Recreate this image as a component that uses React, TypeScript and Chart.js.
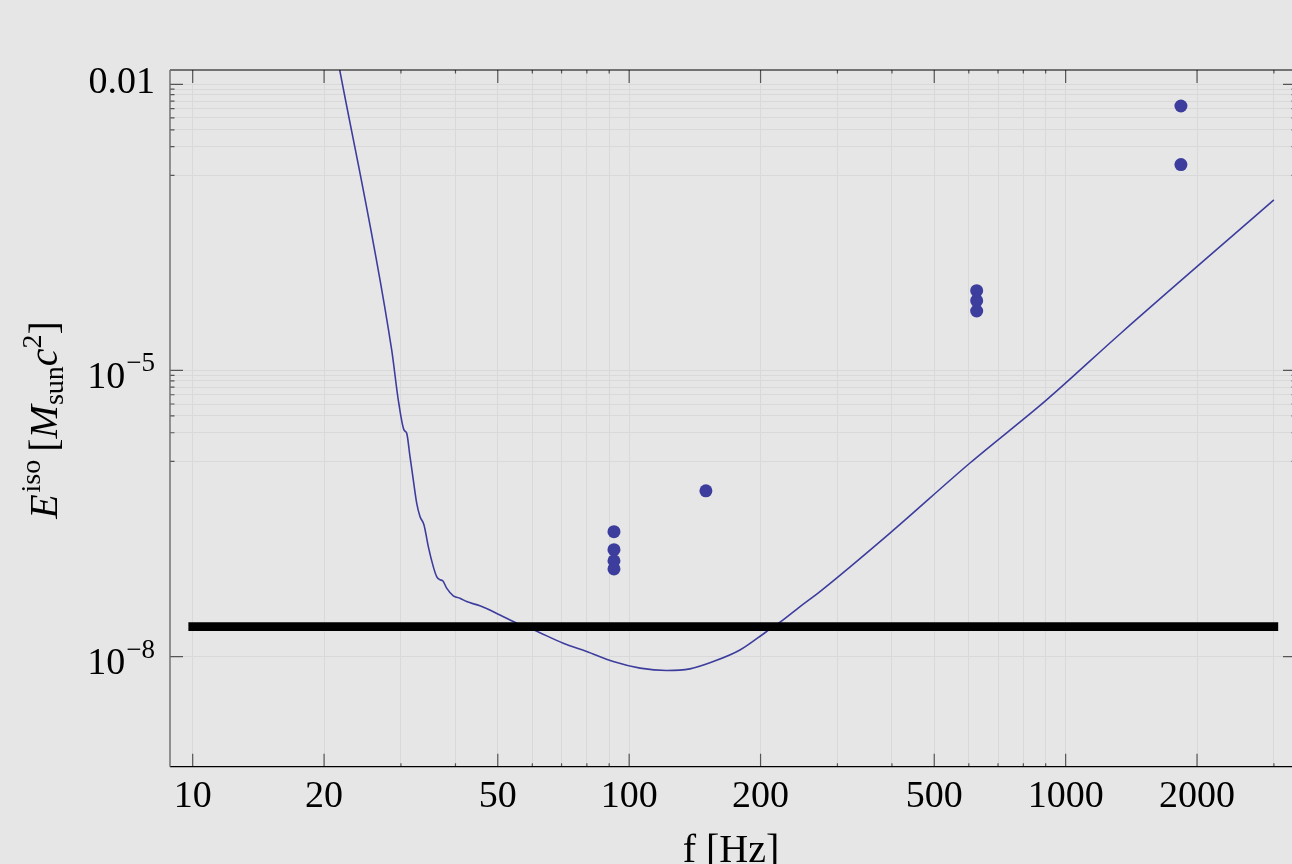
import React, { useEffect, useRef } from "react";
import { Chart, registerables } from "chart.js";

Chart.register(...registerables);

// ---------- data ----------
const curveFreq = [
  21.29, 28.57, 29.58, 30.48, 30.92, 31.47, 32.02, 32.6, 33.17, 33.88, 34.66,
  35.58, 36.22, 36.86, 37.38, 38.18, 39.54, 40.96, 42.43, 45.51, 50.58, 55.24,
  60.3, 70.63, 79.91, 91.96, 105.9, 121.9, 137.8, 155.9, 179.4, 206.5, 221.6,
  246.3, 273.6, 395.9, 603.7, 904.4, 1332, 3000,
];
const curveEnergy = [
  2.288e-2, 1.64e-5, 4.91e-6, 2.38e-6, 2.2e-6, 1.25e-6, 7.11e-7, 4.06e-7,
  2.94e-7, 2.4e-7, 1.42e-7, 8.77e-8, 6.9e-8, 6.37e-8, 6.26e-8, 5.21e-8,
  4.33e-8, 4.09e-8, 3.77e-8, 3.4e-8, 2.73e-8, 2.24e-8, 1.91e-8, 1.38e-8,
  1.13e-8, 8.86e-9, 7.56e-9, 7.13e-9, 7.43e-9, 8.86e-9, 1.17e-8, 1.83e-8,
  2.29e-8, 3.34e-8, 4.8e-8, 1.97e-7, 1.07e-6, 4.91e-6, 2.41e-5, 6.13e-4,
];

const modeFreq = [92.3, 92.3, 92.3, 92.3, 149.9, 625.4, 625.4, 625.4, 1837, 1837];
const modeEnergy = [
  2.04e-7, 1.32e-7, 1.01e-7, 8.3e-8, 5.46e-7, 6.86e-5, 5.39e-5, 4.2e-5,
  5.92e-3, 1.44e-3,
];

const thresholdFreq = [10, 3000];
const thresholdEnergy = [2.06e-8, 2.06e-8];

const xMajorTicks = [10, 20, 50, 100, 200, 500, 1000, 2000];
const xMajorLabels = ["10", "20", "50", "100", "200", "500", "1000", "2000"];
const xMinorTicks = [30, 40, 60, 70, 80, 90, 300, 400, 600, 700, 800, 900, 3000];

const yMajorTicks = [1e-2, 1e-5, 1e-8];
const yMajorBase = ["0.01", "10", "10"];
const yMajorExp = ["", "\u22125", "\u22128"];
const yMinorTicks = [
  8.889e-3, 7.778e-3, 6.667e-3, 5.556e-3, 4.444e-3, 3.333e-3, 2.222e-3, 1.111e-3,
  8.889e-6, 7.778e-6, 6.667e-6, 5.556e-6, 4.444e-6, 3.333e-6, 2.222e-6, 1.111e-6,
];

const xRange = [8.872, 3371];
const yRange = [7.065e-10, 1.4122e-2];

// ---------- styling ----------
const CANVAS_W = 1310;
const CANVAS_H = 864;
const BG = "#e6e6e6";
const GRID = "#d9d9d9";
const BLUE = "rgb(61,61,158)";
const SERIF = '"Liberation Serif", "Times New Roman", serif';

const framePlugin = {
  id: "mmaFrame",
  beforeDraw(chart: any) {
    const { ctx } = chart;
    ctx.save();
    ctx.fillStyle = BG;
    ctx.fillRect(0, 0, chart.width, chart.height);
    ctx.restore();
  },
  afterDraw(chart: any) {
    const { ctx, chartArea } = chart;
    const { left, right, top, bottom } = chartArea;
    const xs = chart.scales.x;
    const ys = chart.scales.y;
    ctx.save();

    // ticks
    ctx.strokeStyle = "#555";
    ctx.lineWidth = 1.2;
    ctx.beginPath();
    xMajorTicks.forEach((v) => {
      const p = xs.getPixelForValue(v);
      ctx.moveTo(p, bottom);
      ctx.lineTo(p, bottom - 13);
      ctx.moveTo(p, top);
      ctx.lineTo(p, top + 13);
    });
    xMinorTicks.forEach((v) => {
      const p = xs.getPixelForValue(v);
      ctx.moveTo(p, bottom);
      ctx.lineTo(p, bottom - 3.5);
      ctx.moveTo(p, top);
      ctx.lineTo(p, top + 3.5);
    });
    yMajorTicks.forEach((v) => {
      const p = ys.getPixelForValue(v);
      ctx.moveTo(left, p);
      ctx.lineTo(left + 13, p);
      ctx.moveTo(right, p);
      ctx.lineTo(right - 13, p);
    });
    yMinorTicks.forEach((v) => {
      const p = ys.getPixelForValue(v);
      ctx.moveTo(left, p);
      ctx.lineTo(left + 4.5, p);
      ctx.moveTo(right, p);
      ctx.lineTo(right - 4.5, p);
    });
    ctx.stroke();

    // frame
    ctx.strokeStyle = "#000";
    ctx.lineWidth = 1.2;
    ctx.beginPath();
    ctx.moveTo(left, top);
    ctx.lineTo(right, top);
    ctx.moveTo(left, bottom);
    ctx.lineTo(right, bottom);
    ctx.stroke();
    ctx.strokeStyle = "#6b6b6b";
    ctx.lineWidth = 1.4;
    ctx.beginPath();
    ctx.moveTo(left, top);
    ctx.lineTo(left, bottom);
    ctx.moveTo(right, top);
    ctx.lineTo(right, bottom);
    ctx.stroke();

    // x tick labels
    ctx.fillStyle = "#000";
    ctx.font = `38px ${SERIF}`;
    ctx.textAlign = "center";
    ctx.textBaseline = "alphabetic";
    xMajorTicks.forEach((v, i) => {
      ctx.fillText(xMajorLabels[i], xs.getPixelForValue(v), bottom + 40.6);
    });

    // y tick labels
    const labelRight = 155;
    yMajorTicks.forEach((v, i) => {
      const p = ys.getPixelForValue(v);
      ctx.textAlign = "left";
      if (!yMajorExp[i]) {
        ctx.font = `38px ${SERIF}`;
        const w = ctx.measureText(yMajorBase[i]).width;
        ctx.fillText(yMajorBase[i], labelRight - w, p + 9);
      } else {
        ctx.font = `27px ${SERIF}`;
        const ws = ctx.measureText(yMajorExp[i]).width;
        ctx.font = `38px ${SERIF}`;
        const wb = ctx.measureText(yMajorBase[i]).width;
        const sx = labelRight - ws;
        const bx = sx - wb - 1;
        const base = p + 17.5;
        ctx.fillText(yMajorBase[i], bx, base);
        ctx.font = `27px ${SERIF}`;
        ctx.fillText(yMajorExp[i], sx, base - 16.5);
      }
    });

    // x title
    ctx.font = `40px ${SERIF}`;
    ctx.textAlign = "center";
    ctx.fillText("f [Hz]", 731, 862);

    // y title (rotated rich text)
    const parts: { t: string; f: string; dy: number }[] = [
      { t: "E", f: `italic 40px ${SERIF}`, dy: 0 },
      { t: "iso", f: `28px ${SERIF}`, dy: -17 },
      { t: " [", f: `40px ${SERIF}`, dy: 0 },
      { t: "M", f: `italic 40px ${SERIF}`, dy: 0 },
      { t: "sun", f: `28px ${SERIF}`, dy: 6 },
      { t: "c", f: `italic 40px ${SERIF}`, dy: 0 },
      { t: "2", f: `28px ${SERIF}`, dy: -16 },
      { t: "]", f: `40px ${SERIF}`, dy: 0 },
    ];
    let total = 0;
    const widths = parts.map((pt) => {
      ctx.font = pt.f;
      const w = ctx.measureText(pt.t).width;
      total += w;
      return w;
    });
    ctx.translate(57, 420);
    ctx.rotate(-Math.PI / 2);
    ctx.textAlign = "left";
    let cx = -total / 2;
    parts.forEach((pt, i) => {
      ctx.font = pt.f;
      ctx.fillText(pt.t, cx + (i === 1 ? 2 : 0), pt.dy);
      cx += widths[i];
    });

    ctx.restore();
  },
};

export default function App() {
  const ref = useRef<HTMLCanvasElement | null>(null);

  useEffect(() => {
    if (!ref.current) return;
    const curve = curveFreq.map((f, i) => ({ x: f, y: curveEnergy[i] }));
    const modes = modeFreq.map((f, i) => ({ x: f, y: modeEnergy[i] }));
    const thresh = thresholdFreq.map((f, i) => ({ x: f, y: thresholdEnergy[i] }));
    const allX = [...xMajorTicks, ...xMinorTicks].sort((a, b) => a - b);
    const allY = [...yMajorTicks, ...yMinorTicks].sort((a, b) => a - b);

    const chart = new Chart(ref.current, {
      type: "line",
      data: {
        datasets: [
          {
            data: thresh,
            borderColor: "#000",
            borderWidth: 8.6,
            borderCapStyle: "square",
            pointRadius: 0,
            order: 0,
          } as any,
          {
            data: modes,
            showLine: false,
            pointRadius: 6.5,
            pointBorderWidth: 0,
            pointBackgroundColor: BLUE,
            pointBorderColor: BLUE,
            order: 1,
          } as any,
          {
            data: curve,
            borderColor: BLUE,
            borderWidth: 1.6,
            pointRadius: 0,
            cubicInterpolationMode: "monotone",
            order: 2,
          } as any,
        ],
      },
      options: {
        responsive: false,
        maintainAspectRatio: false,
        devicePixelRatio: 1,
        animation: false,
        events: [],
        layout: { padding: { left: 0, top: 70, right: CANVAS_W - 1296, bottom: 0 } },
        plugins: { legend: { display: false }, tooltip: { enabled: false } },
        scales: {
          x: {
            type: "logarithmic",
            min: xRange[0],
            max: xRange[1],
            afterBuildTicks: (s: any) => {
              s.ticks = allX.map((v) => ({ value: v }));
            },
            afterFit: (s: any) => {
              s.height = CANVAS_H - 766.7;
            },
            ticks: { display: false },
            grid: { color: GRID, lineWidth: 1, drawTicks: false },
            border: { display: false },
          },
          y: {
            type: "logarithmic",
            min: yRange[0],
            max: yRange[1],
            afterBuildTicks: (s: any) => {
              s.ticks = allY.map((v) => ({ value: v }));
            },
            afterFit: (s: any) => {
              s.width = 170;
            },
            ticks: { display: false },
            grid: { color: GRID, lineWidth: 1, drawTicks: false },
            border: { display: false },
          },
        },
      } as any,
      plugins: [framePlugin],
    });
    return () => chart.destroy();
  }, []);

  return (
    <div
      style={{
        position: "fixed",
        left: 0,
        top: 0,
        width: "100vw",
        height: "100vh",
        overflow: "hidden",
        background: BG,
      }}
    >
      <canvas
        ref={ref}
        width={CANVAS_W}
        height={CANVAS_H}
        style={{ display: "block", width: CANVAS_W, height: CANVAS_H }}
      />
    </div>
  );
}
